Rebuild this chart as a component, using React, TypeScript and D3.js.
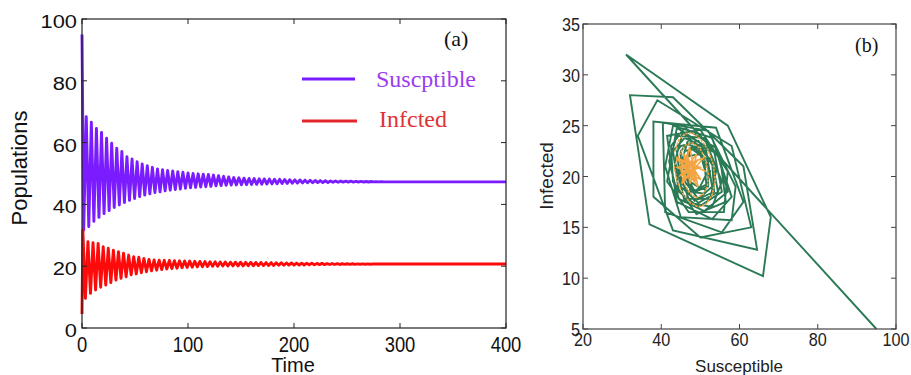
import React from "react";
import * as d3 from "d3";

// ---------- Panel (a): time series, read as alternating extremes ----------
const sStart = 95;
const iStart = 4.5;
const sEnd = 47.3;
const iEnd = 20.7;
const tEnd = 400;
const period = 4.8;
const sPeaks = [68.4, 66.6, 64.6, 63.3, 61.4, 59.8, 58.2, 57.1, 55.4, 54.7, 53.8, 53.1, 52.5, 52.0, 51.5, 51.2, 51.0, 50.8, 50.6, 50.4, 50.2, 50.0, 49.9, 49.8, 49.7, 49.5, 49.3, 49.1, 48.9, 48.7, 48.6, 48.5, 48.4, 48.35, 48.3, 48.25, 48.2, 48.15, 48.1, 48.05, 48.0, 47.95, 47.9, 47.85, 47.8, 47.75, 47.7, 47.65, 47.6, 47.6, 47.55, 47.5, 47.5, 47.45, 47.45, 47.4, 47.4, 47.35, 47.35, 47.3];
const sTroughs = [31.7, 32.8, 34.5, 35.8, 37.0, 38.0, 39.0, 39.8, 40.6, 41.3, 41.9, 42.5, 43.0, 43.4, 43.8, 44.1, 44.4, 44.6, 44.8, 45.0, 45.2, 45.4, 45.5, 45.6, 45.7, 45.85, 46.0, 46.1, 46.2, 46.25, 46.3, 46.35, 46.4, 46.45, 46.5, 46.55, 46.6, 46.65, 46.7, 46.75, 46.8, 46.85, 46.9, 46.95, 47.0, 47.0, 47.05, 47.1, 47.1, 47.15, 47.15, 47.2, 47.2, 47.2, 47.25, 47.25, 47.25, 47.3, 47.3, 47.3];
const iPeaks = [31.7, 27.9, 27.6, 27.4, 26.3, 25.8, 25.2, 24.7, 24.2, 23.6, 23.1, 22.9, 22.5, 22.2, 22.0, 21.95, 21.9, 21.85, 21.8, 21.75, 21.7, 21.65, 21.6, 21.55, 21.5, 21.45, 21.4, 21.35, 21.35, 21.3, 21.3, 21.3, 21.25, 21.25, 21.2, 21.2, 21.15, 21.15, 21.1, 21.1, 21.05, 21.05, 21.0, 21.0, 20.95, 20.95, 20.9, 20.9, 20.85, 20.85, 20.85, 20.8, 20.8, 20.8, 20.75, 20.75, 20.75, 20.7, 20.7, 20.7];
const iTroughs = [9.6, 11.2, 12.3, 13.2, 13.9, 14.7, 15.5, 16.1, 16.6, 17.2, 17.5, 17.9, 18.2, 18.5, 18.7, 18.9, 19.1, 19.2, 19.35, 19.5, 19.6, 19.7, 19.8, 19.85, 19.9, 19.95, 20.0, 20.05, 20.05, 20.1, 20.1, 20.1, 20.15, 20.15, 20.2, 20.2, 20.25, 20.25, 20.3, 20.3, 20.35, 20.35, 20.4, 20.4, 20.45, 20.45, 20.5, 20.5, 20.55, 20.55, 20.55, 20.6, 20.6, 20.6, 20.65, 20.65, 20.65, 20.7, 20.7, 20.7];
const xTicksA = [0, 100, 200, 300, 400];
const yTicksA = [0, 20, 40, 60, 80, 100];

// ---------- Panel (b): phase portrait vertices (Susceptible, Infected) ----------
const greenPath: [number, number][] = [
  [95, 5], [31, 32], [57, 25], [68, 16], [66, 10.2], [37, 15.3], [32, 28],
  [43, 27.8], [61, 21], [64.5, 12.8], [43, 14.7], [34, 24],
  [39, 27.5], [58, 23], [63, 15], [50, 14], [38, 18],
  [38, 25.4], [54, 24.8], [61, 17.5], [55.5, 14.5], [41, 16.5],
  [40.4, 25.3], [52, 24.5], [59, 19], [58, 15.7], [45, 16], [41, 21],
  [43, 25], [53, 23.8], [58, 18], [53, 15.8], [44, 17.5], [42, 22.5],
  [41.5, 24], [50, 24.6], [57, 20.5], [56, 16.5], [47, 16.5], [41.5, 19.5],
  [44, 24.8], [55, 22], [56.5, 17.5], [49, 16.3], [43, 19.5], [42.5, 23],
  [46, 24.8], [54, 22.8], [57, 18.5], [51, 16.6], [44.5, 17.8], [42, 21.5],
  [44, 24], [51, 23.8], [55.5, 19.5], [53, 17], [46, 17.5], [43.5, 21.5],
  [45.5, 24.3], [53.5, 22.5], [55.5, 18.5], [49.5, 17], [44.5, 18.5], [43, 22.5],
  [46, 23.8], [52.5, 22.5], [54.5, 18.5], [49.5, 17.4], [45, 19], [44, 22.5],
  [45, 23], [49.5, 23.5], [54, 20.5], [52.5, 17.8], [47, 17.8], [44.5, 20.5],
  [47, 23.8], [53, 21.5], [53.5, 18.5], [48.5, 17.6], [45, 19.5], [45, 22.5],
  [46.5, 23.2], [51.5, 22.5], [53, 19], [49.5, 17.8], [46, 19.5], [45.5, 21.8],
  [46, 22.5], [49.5, 22.8], [52.5, 20.5], [51, 18.3], [47.5, 18.5], [45.8, 21],
  [48, 23], [52, 21.5], [52, 19], [48.5, 18.5], [46, 20], [46.5, 22],
  [47.5, 22.8], [51, 21.8], [51.5, 19.2], [48.5, 18.6], [46.5, 20], [46.8, 21.8],
  [47, 22], [50, 22.2], [51.5, 20.2], [49.8, 18.9], [47.3, 19.5], [46.5, 21],
];
const orangePath: [number, number][] = [
  [51.4, 20.5], [43.8, 21.9], [49.4, 19.0], [47.2, 22.9], [45.3, 19.3], [50.7, 21.8],
  [44.1, 20.9], [50.1, 19.7], [45.6, 22.3], [47.4, 19.3], [49.0, 22.2], [44.9, 20.1],
  [49.9, 20.9], [45.1, 21.5], [48.8, 19.5], [46.6, 22.2], [46.0, 19.7], [49.1, 21.5],
  [45.3, 20.9], [49.0, 20.2], [46.5, 21.6], [47.4, 20.1], [48.1, 21.4], [46.5, 20.5],
  [48.3, 20.8], [47.0, 21.1], [47.4, 20.5],
];
const orangeDots: [number, number][] = [
  [43.5, 22.5], [44.5, 23.6], [46, 24.2], [48, 24.3], [50, 23.7], [52, 22.6], [53.3, 21.2],
  [53.8, 19.6], [53, 18.2], [51.5, 17.3], [49.5, 17], [47.5, 17.4], [45.5, 18.3], [44, 19.6], [43.3, 21],
  [45, 22.4], [46.2, 23.1], [48, 23.3], [49.8, 22.8], [51.2, 21.8], [52, 20.3], [51.8, 19],
  [50.6, 18.2], [48.8, 17.9], [47, 18.5], [45.6, 19.6], [44.8, 21],
];
const xTicksB = [20, 40, 60, 80, 100];
const yTicksB = [5, 10, 15, 20, 25, 30, 35];

const SANS = "'Liberation Sans', Arial, sans-serif";
const SERIF = "'Liberation Serif', 'Times New Roman', serif";

function buildSeries(start: number, firsts: number[], seconds: number[], off1: number, off2: number) {
  const pts: [number, number][] = [[0, start]];
  for (let k = 0; k < firsts.length; k++) {
    pts.push([off1 + period * k, firsts[k]]);
    if (k < seconds.length) pts.push([off2 + period * k, seconds[k]]);
  }
  return pts;
}

export default function App() {
  const xA = d3.scaleLinear().domain([0, 400]).range([82, 506]);
  const yA = d3.scaleLinear().domain([0, 100]).range([328, 19]);
  const xB = d3.scaleLinear().domain([20, 100]).range([583, 896]);
  const yB = d3.scaleLinear().domain([5, 35]).range([329, 24]);

  const sSeries = buildSeries(sStart, sTroughs, sPeaks, 1.6, 4.0);
  sSeries.push([tEnd, sEnd]);
  const iSeries = buildSeries(iStart, iPeaks, iTroughs, 0.8, 3.2);
  iSeries.push([tEnd, iEnd]);

  const lineA = d3.line<[number, number]>().x((d) => xA(d[0])).y((d) => yA(d[1]));
  const lineB = d3.line<[number, number]>().x((d) => xB(d[0])).y((d) => yB(d[1]));

  const tick = 5;

  return (
    <svg width={911} height={375} style={{ position: "absolute", left: 0, top: 0, background: "#fff" }}>
      <rect x={0} y={0} width={911} height={375} fill="#fff" />
      {/* ---------- Panel A ---------- */}
      <g>
        <path d={lineA(sSeries) || ""} fill="none" stroke="#7a1cff" strokeWidth={2.9} strokeLinejoin="round" />
        <path d={lineA(iSeries) || ""} fill="none" stroke="#ff0a0a" strokeWidth={2.9} strokeLinejoin="round" />
        <rect x={xA(0)} y={yA(100)} width={xA(400) - xA(0)} height={yA(0) - yA(100)} fill="none" stroke="#222" strokeWidth={1.2} />
        {xTicksA.map((t) => (
          <g key={"xa" + t}>
            <line x1={xA(t)} x2={xA(t)} y1={yA(0)} y2={yA(0) - tick} stroke="#222" />
            <line x1={xA(t)} x2={xA(t)} y1={yA(100)} y2={yA(100) + tick} stroke="#222" />
            <text transform={`translate(${xA(t)},352) scale(0.92,1.12)`} textAnchor="middle" fontFamily={SANS} fontSize={20} fill="#111">{t}</text>
          </g>
        ))}
        {yTicksA.map((t) => (
          <g key={"ya" + t}>
            <line x1={xA(0)} x2={xA(0) + tick} y1={yA(t)} y2={yA(t)} stroke="#222" />
            <line x1={xA(400)} x2={xA(400) - tick} y1={yA(t)} y2={yA(t)} stroke="#222" />
            <text transform={`translate(77,${yA(t) + 9}) scale(1.15,0.95)`} textAnchor="end" fontFamily={SANS} fontSize={19} fill="#111">{t}</text>
          </g>
        ))}
        <text x={293} y={372} textAnchor="middle" fontFamily={SANS} fontSize={20} fill="#111">Time</text>
        <text transform="translate(27,168) rotate(-90)" textAnchor="middle" fontFamily={SANS} fontSize={22} fill="#111">Populations</text>
        <text x={444} y={46} fontFamily={SERIF} fontSize={22} fill="#111">(a)</text>
        <line x1={302} x2={355} y1={79} y2={79} stroke="#7a1cff" strokeWidth={3} />
        <text x={376} y={87} fontFamily={SERIF} fontSize={24} fill="#9b3cf0">Suscptible</text>
        <line x1={302} x2={357} y1={121} y2={121} stroke="#e3262b" strokeWidth={3} />
        <text x={379} y={127} fontFamily={SERIF} fontSize={24} fill="#dc3535">Infcted</text>
      </g>

      {/* ---------- Panel B ---------- */}
      <g>
        <path d={lineB(greenPath) || ""} fill="none" stroke="#2b7a56" strokeWidth={1.9} strokeLinejoin="miter" />
        <path d={lineB(orangeDots) || ""} fill="none" stroke="#f2a445" strokeWidth={1.6} strokeDasharray="1.2 2.4" strokeLinecap="round" />
        <path d={lineB(orangePath) || ""} fill="none" stroke="#f4a543" strokeWidth={1.6} />
        <rect x={xB(20)} y={yB(35)} width={xB(100) - xB(20)} height={yB(5) - yB(35)} fill="none" stroke="#444" strokeWidth={1.2} />
        {xTicksB.map((t) => (
          <g key={"xb" + t}>
            <line x1={xB(t)} x2={xB(t)} y1={yB(5)} y2={yB(5) - tick} stroke="#444" />
            <line x1={xB(t)} x2={xB(t)} y1={yB(35)} y2={yB(35) + tick} stroke="#444" />
            <text transform={`translate(${xB(t)},346) scale(0.9,1)`} textAnchor="middle" fontFamily={SANS} fontSize={18} fill="#222">{t}</text>
          </g>
        ))}
        {yTicksB.map((t) => (
          <g key={"yb" + t}>
            <line x1={xB(20)} x2={xB(20) + tick} y1={yB(t)} y2={yB(t)} stroke="#444" />
            <line x1={xB(100)} x2={xB(100) - tick} y1={yB(t)} y2={yB(t)} stroke="#444" />
            <text transform={`translate(580,${yB(t) + 7}) scale(0.9,1)`} textAnchor="end" fontFamily={SANS} fontSize={18} fill="#222">{t}</text>
          </g>
        ))}
        <text x={739} y={372} textAnchor="middle" fontFamily={SANS} fontSize={17} fill="#222">Susceptible</text>
        <text transform="translate(553,176) rotate(-90)" textAnchor="middle" fontFamily={SANS} fontSize={19} fill="#222">Infected</text>
        <text x={855} y={52} fontFamily={SERIF} fontSize={20} fill="#111">(b)</text>
      </g>
    </svg>
  );
}
